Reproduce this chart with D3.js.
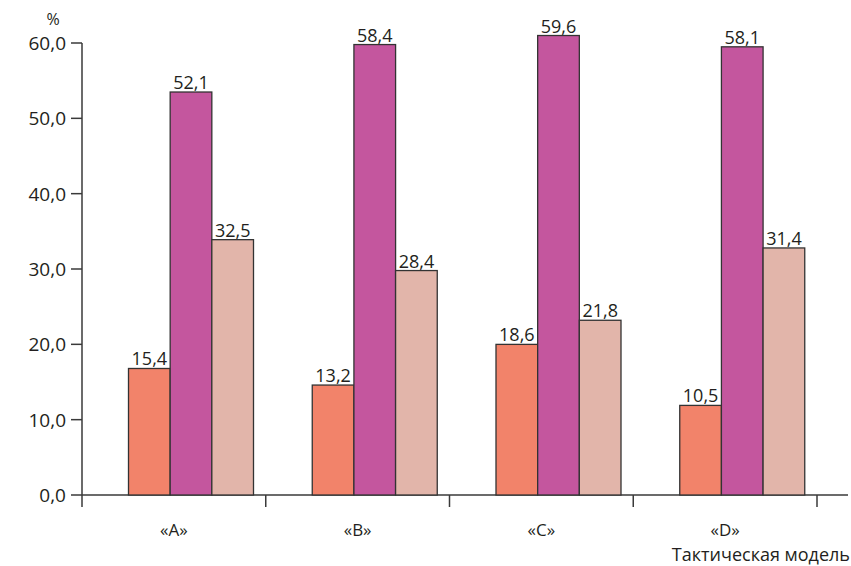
<!DOCTYPE html>
<html>
<head>
<meta charset="utf-8">
<script src="https://cdn.jsdelivr.net/npm/d3@7"></script>
<style>
  body { margin: 0; background: #fff; }
  text { font-family: "Open Sans", sans-serif; fill: #231f20; }
</style>
</head>
<body>
<div id="chart"></div>
<script>
// Data
var categories = ["«A»", "«B»", "«C»", "«D»"];
var seriesNames = ["s1", "s2", "s3"];
var series1 = [15.4, 13.2, 18.6, 10.5];
var series2 = [52.1, 58.4, 59.6, 58.1];
var series3 = [32.5, 28.4, 21.8, 31.4];
var yTicks = [0, 10, 20, 30, 40, 50, 60];
var colors = ["#f2836a", "#c4569e", "#e2b5aa"];

var width = 851, height = 566;
var svg = d3.select("#chart").append("svg")
    .attr("width", width)
    .attr("height", height);

var y = d3.scaleLinear().domain([0, 60]).range([495, 43]);
// in the original the bar tops sit ~10px above their value on the axis
var yBar = d3.scaleLinear().domain([0, 60]).range([484.5, 32.5]);

var x = d3.scaleBand().domain(categories).range([82, 817]).padding(0);
var x1 = d3.scaleBand().domain(seriesNames).range([46.5, 171.5]).padding(0);

var fmt = function (v) { return d3.format(".1f")(v).replace(".", ","); };

// Axes
var axisColor = "#3a3a3a";
svg.append("line")
    .attr("x1", 82).attr("x2", 82)
    .attr("y1", y(60)).attr("y2", 507)
    .attr("stroke", axisColor).attr("stroke-width", 1.5);

svg.append("line")
    .attr("x1", 82).attr("x2", 848)
    .attr("y1", y(0)).attr("y2", y(0))
    .attr("stroke", axisColor).attr("stroke-width", 1.5);

var yt = svg.selectAll(".ytick").data(yTicks).enter().append("g").attr("class", "ytick");
yt.append("line")
    .attr("x1", 71).attr("x2", 82)
    .attr("y1", function (d) { return y(d); })
    .attr("y2", function (d) { return y(d); })
    .attr("stroke", axisColor).attr("stroke-width", 1.5);
yt.append("text")
    .attr("x", 66)
    .attr("y", function (d) { return y(d) + 7; })
    .attr("text-anchor", "end")
    .style("font-size", "19px")
    .text(fmt);

svg.append("text")
    .attr("x", 53).attr("y", 25)
    .attr("text-anchor", "middle")
    .style("font-size", "16px")
    .text("%");

// category separators
svg.selectAll(".xtick").data(categories).enter().append("line")
    .attr("x1", function (d) { return x(d) + x.bandwidth(); })
    .attr("x2", function (d) { return x(d) + x.bandwidth(); })
    .attr("y1", y(0)).attr("y2", 507)
    .attr("stroke", axisColor).attr("stroke-width", 1.5);

svg.selectAll(".xlab").data(categories).enter().append("text")
    .attr("x", function (d) { return x(d) + x.bandwidth() / 2; })
    .attr("y", 535.5)
    .attr("text-anchor", "middle")
    .style("font-size", "17px")
    .text(function (d) { return d; });

svg.append("text")
    .attr("x", 850).attr("y", 560.5)
    .attr("text-anchor", "end")
    .style("font-size", "18px")
    .text("Тактическая модель");

// Bars
var allSeries = [series1, series2, series3];
var rows = [];
categories.forEach(function (c, i) {
    seriesNames.forEach(function (s, j) {
        rows.push({ cat: c, s: s, j: j, v: allSeries[j][i] });
    });
});

var g = svg.selectAll(".bar").data(rows).enter().append("g");
g.append("rect")
    .attr("x", function (d) { return x(d.cat) + x1(d.s); })
    .attr("y", function (d) { return yBar(d.v); })
    .attr("width", x1.bandwidth())
    .attr("height", function (d) { return y(0) - yBar(d.v); })
    .attr("fill", function (d) { return colors[d.j]; })
    .attr("stroke", "#333")
    .attr("stroke-width", 1.3);
g.append("text")
    .attr("x", function (d) { return x(d.cat) + x1(d.s) + x1.bandwidth() / 2; })
    .attr("y", function (d) { return yBar(d.v) - 3; })
    .attr("text-anchor", "middle")
    .style("font-size", "18px")
    .text(function (d) { return fmt(d.v); });
</script>
</body>
</html>
